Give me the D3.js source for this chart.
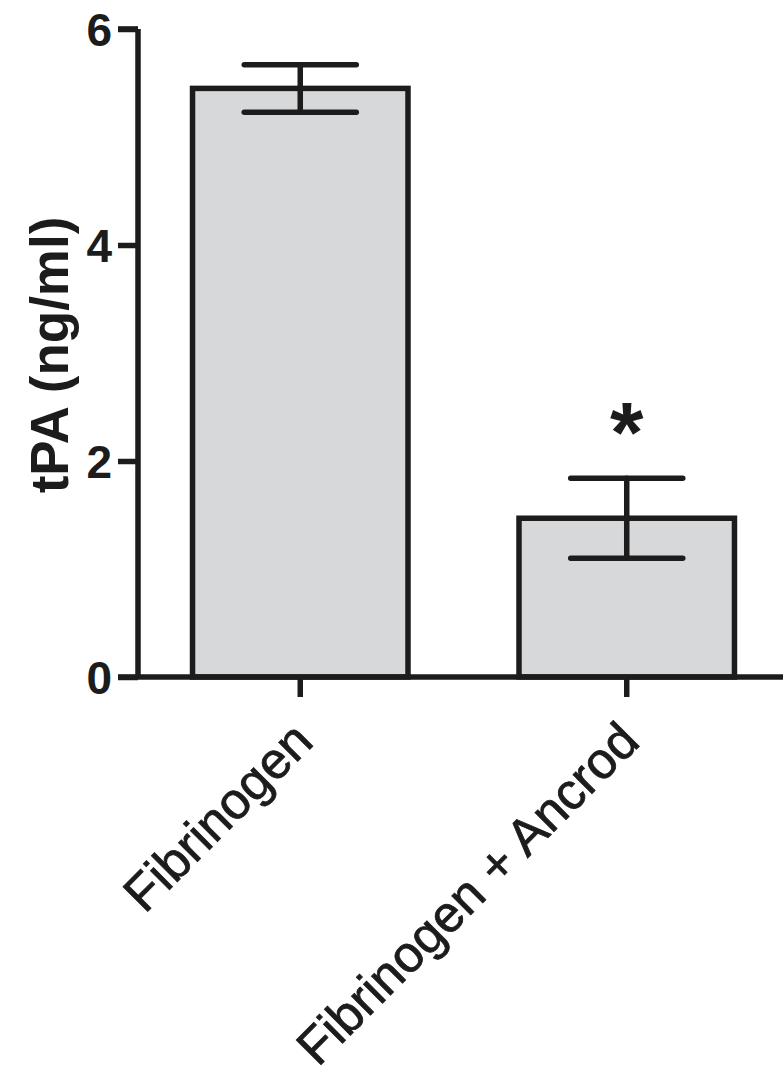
<!DOCTYPE html>
<html lang="en">

<head>
    <meta charset="UTF-8">
    <title>tPA bar chart</title>
    <script src="https://d3js.org/d3.v7.min.js"></script>
    <style>
        body { margin: 0; background: #fff; }
    </style>
</head>

<body>
    <div id="chart-container"></div>
    <script>
        // data
        const groups = ['Fibrinogen', 'Fibrinogen + Ancrod'];
        const means = [5.45, 1.47];
        const sems = [0.22, 0.37];
        const significant = [false, true];
        const yTicks = [0, 2, 4, 6];

        const width = 783, height = 1084;
        const ink = '#1c1c1c';

        const svg = d3.select('#chart-container')
            .append('svg')
            .attr('width', width)
            .attr('height', height);

        const y = d3.scaleLinear()
            .domain([0, 6])
            .range([677, 29]);

        const x = d3.scaleBand()
            .domain(groups)
            .range([138, 789])
            .paddingInner(0.34)
            .paddingOuter(0.167);

        const rows = groups.map((g, i) => ({ name: g, mean: means[i], sem: sems[i], star: significant[i] }));

        // bars
        svg.selectAll('.bar')
            .data(rows)
            .enter()
            .append('rect')
            .attr('class', 'bar')
            .attr('x', d => x(d.name))
            .attr('y', d => y(d.mean))
            .attr('width', x.bandwidth())
            .attr('height', d => y(0) - y(d.mean))
            .attr('fill', '#d7d8da')
            .attr('stroke', ink)
            .attr('stroke-width', 5.5);

        // error bars (vertical + caps)
        const capHalf = x.bandwidth() * 0.26;
        const err = svg.selectAll('.err')
            .data(rows)
            .enter()
            .append('g')
            .attr('class', 'err')
            .attr('stroke', ink)
            .attr('stroke-width', 5.5)
            .attr('stroke-linecap', 'round');
        err.append('line')
            .attr('x1', d => x(d.name) + x.bandwidth() / 2)
            .attr('x2', d => x(d.name) + x.bandwidth() / 2)
            .attr('y1', d => y(d.mean + d.sem))
            .attr('y2', d => y(d.mean - d.sem));
        err.append('line')
            .attr('x1', d => x(d.name) + x.bandwidth() / 2 - capHalf)
            .attr('x2', d => x(d.name) + x.bandwidth() / 2 + capHalf)
            .attr('y1', d => y(d.mean + d.sem))
            .attr('y2', d => y(d.mean + d.sem));
        err.append('line')
            .attr('x1', d => x(d.name) + x.bandwidth() / 2 - capHalf)
            .attr('x2', d => x(d.name) + x.bandwidth() / 2 + capHalf)
            .attr('y1', d => y(d.mean - d.sem))
            .attr('y2', d => y(d.mean - d.sem));

        // significance star
        svg.selectAll('.star')
            .data(rows.filter(d => d.star))
            .enter()
            .append('text')
            .attr('class', 'star')
            .attr('x', d => x(d.name) + x.bandwidth() / 2)
            .attr('y', d => y(d.mean + d.sem) - 16)
            .attr('text-anchor', 'middle')
            .attr('font-family', 'Liberation Sans, Arial, sans-serif')
            .attr('font-weight', 'bold')
            .attr('font-size', '86px')
            .attr('fill', ink)
            .text('*');

        // y axis
        const yAxis = svg.append('g')
            .attr('transform', 'translate(138,0)')
            .call(d3.axisLeft(y).tickValues(yTicks).tickSize(20).tickPadding(6).tickFormat(d3.format('d')));
        yAxis.select('.domain')
            .attr('d', `M0,${y(6)}H-20M0,${y(6)}V${y(0)}`)
            .attr('stroke', ink)
            .attr('stroke-width', 5.5)
            .attr('fill', 'none');
        yAxis.selectAll('.tick line')
            .attr('stroke', ink)
            .attr('stroke-width', 5.5);
        yAxis.selectAll('.tick text')
            .attr('font-family', 'Liberation Sans, Arial, sans-serif')
            .attr('font-weight', 'bold')
            .attr('font-size', '46px')
            .attr('fill', ink)
            .attr('dy', '0.36em');

        // x axis
        const xAxis = svg.append('g')
            .attr('transform', `translate(0,${y(0)})`)
            .call(d3.axisBottom(x).tickSize(20).tickFormat(''));
        xAxis.select('.domain')
            .attr('d', `M118,0H${width}`)
            .attr('stroke', ink)
            .attr('stroke-width', 5.5);
        xAxis.selectAll('.tick line')
            .attr('stroke', ink)
            .attr('stroke-width', 5.5);

        // rotated category labels
        svg.selectAll('.cat')
            .data(groups)
            .enter()
            .append('text')
            .attr('class', 'cat')
            .attr('transform', d => `translate(${x(d) + x.bandwidth() / 2 + 15},744) rotate(-45)`)
            .attr('text-anchor', 'end')
            .attr('font-family', 'Liberation Sans, Arial, sans-serif')
            .attr('font-size', '51px')
            .attr('fill', ink)
            .attr('stroke', ink)
            .attr('stroke-width', 0.8)
            .text(d => d);

        // y axis title
        svg.append('text')
            .attr('transform', 'translate(68,355) rotate(-90)')
            .attr('text-anchor', 'middle')
            .attr('font-family', 'Liberation Sans, Arial, sans-serif')
            .attr('font-weight', 'bold')
            .attr('font-size', '53px')
            .attr('fill', ink)
            .text('tPA (ng/ml)');
    </script>
</body>

</html>
